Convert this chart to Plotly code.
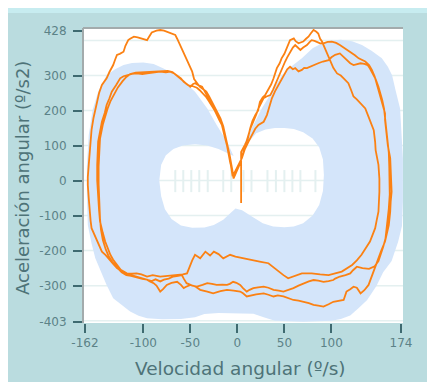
import plotly.graph_objects as go

# ---------------- data ----------------
x_ticks = [-162, -100, -50, 0, 50, 100, 174]
y_ticks = [-403, -300, -200, -100, 0, 100, 200, 300, 428]
grid_y = [-400, -300, -200, -100, 0, 100, 200, 300, 400]
center_ticks = [-66, -57.5, -49, -40.5, -31.5, -15, -6.5, 6.5, 15, 32, 41, 50, 58.5, 67, 83]

# shaded reference band (C-shaped region around a white central "peanut")
band = [
    (-4, 70), (-11, 111), (-22, 159), (-32, 206), (-45, 254), (-56, 282), (-64, 301),
    (-79, 321), (-89, 333), (-100, 337), (-112, 336), (-121, 330), (-130, 318),
    (-139, 301), (-148, 254), (-154, 200), (-158, 130), (-160, 40), (-160, -40),
    (-159, -127), (-155, -180), (-151, -222), (-145, -262), (-139, -298), (-132, -336),
    (-122, -358), (-114, -374), (-105, -386), (-96, -393), (-80, -396), (-60, -395),
    (-45, -390), (-35, -381), (-20, -378), (0, -378), (17, -380), (28, -390), (40, -400),
    (70, -403), (100, -400), (110, -395), (120, -385), (129, -364), (138, -341),
    (148, -300), (155, -262), (164, -230), (171, -174), (175, -130), (176, -60),
    (176, 64), (174, 150), (173, 206), (168, 260), (164.5, 301), (160, 325),
    (153.6, 349), (143, 370), (132.5, 387), (122, 398), (110, 402), (100, 400),
    (90, 392), (80, 378), (68.6, 349), (57, 325), (47.3, 301), (36.7, 254), (26, 206),
    (17, 159), (8.3, 111), (5, 80),
    # inner white hole boundary
    (12, 111), (20, 135), (30, 146), (40, 150), (50, 150), (60, 147), (70, 138),
    (80, 120), (87, 95), (91, 60), (92, 16), (91, -30), (87, -70), (80, -100),
    (70, -122), (60, -131), (50, -133), (38, -131), (27, -122), (15, -102), (5, -85),
    (-2, -80), (-8, -95), (-15, -112), (-25, -127), (-35, -134), (-48, -135),
    (-60, -128), (-70, -110), (-77, -82), (-81, -45), (-83, 0), (-81, 45), (-76, 72),
    (-68, 90), (-58, 100), (-45, 104), (-32, 100), (-20, 90), (-10, 78), (-4, 70),
]

loop1 = [
    (4, -64), (4, -20), (4, 30), (4, 82), (8, 102), (11, 118), (13.6, 149), (16, 170),
    (19, 187), (22, 200), (24, 225), (27, 238), (29.5, 244), (33, 259), (36, 275),
    (38.5, 292), (42, 321), (45, 335), (47, 349), (50, 362), (52.6, 378), (56, 401),
    (60, 406), (62, 398), (65, 392), (70, 397), (73, 405), (75.6, 411), (78, 420),
    (81, 430), (84, 425), (86, 420), (88, 405), (90, 397), (93, 378), (96, 360),
    (99, 340), (102, 322), (106, 306), (110, 300), (113, 292), (118, 278), (121, 258),
    (123.5, 240), (127, 232), (130.5, 221), (136, 206), (139.5, 182), (142, 165),
    (145, 144), (146.5, 110), (147, 87), (150, 45), (151, 5), (151, -32), (150, -89),
    (148, -115), (146.5, -136), (141, -174), (136, -195), (132, -212), (127, -228),
    (122, -241), (111, -260), (104, -266), (97, -270), (88, -268), (79, -265),
    (68.6, -265), (60, -272), (54, -279), (49, -270), (44, -260), (38, -248),
    (33, -236), (25, -232), (15, -227), (6, -222), (-2, -217), (-7.7, -212),
    (-12, -218), (-15, -222), (-20, -210), (-25, -203), (-29, -214), (-34, -203),
    (-39.5, -222), (-45, -212), (-48, -228), (-50, -241), (-53.5, -265), (-58, -268),
    (-64, -270), (-72, -272), (-82, -274), (-90, -270), (-96, -274), (-102, -268),
    (-107, -265), (-112, -266), (-117.5, -265), (-124, -255), (-128, -241),
    (-132, -226), (-135, -212), (-138, -194), (-140.5, -174), (-143, -150),
    (-146, -117), (-147, -85), (-148, -50), (-149, 0), (-149, 45), (-148.5, 80),
    (-148, 111), (-146, 140), (-144, 168), (-141, 193), (-139, 216), (-136, 235),
    (-133.5, 254), (-129, 272), (-124.6, 292), (-121, 298), (-117.5, 301), (-112, 305),
    (-107, 306), (-101, 304), (-96, 306), (-89, 308), (-82, 311), (-76, 309),
    (-71.5, 311), (-67, 306), (-64, 301), (-60, 292), (-57, 282), (-53, 274),
    (-50, 268), (-47, 276), (-45, 278), (-41, 272), (-37.5, 268), (-35, 256),
    (-32.4, 244), (-30, 230), (-27, 216), (-24, 200), (-22, 187), (-19, 172),
    (-16.5, 159), (-15, 140), (-13, 121), (-11, 100), (-9.5, 73), (-7.5, 50),
    (-5.9, 35), (-4, 6),
]

loop2 = [
    (3, 50), (6, 80), (9, 105), (11.8, 130), (14, 150), (17, 168), (20, 188),
    (22.4, 206), (25, 222), (27.8, 235), (31, 240), (35, 244), (38, 260), (40, 273),
    (43, 292), (45.5, 311), (48, 326), (50.8, 340), (53, 352), (56, 368), (59, 380),
    (61.5, 387), (64, 380), (67, 373), (70, 380), (74, 387), (77, 396), (79, 401),
    (82, 399), (84.5, 397), (88, 392), (91.5, 392), (96, 396), (100.5, 397),
    (105, 393), (109, 387), (114, 378), (120, 368), (125, 358), (129, 349),
    (133, 344), (136, 340), (140, 330), (143, 316), (146, 297), (148, 278),
    (150, 262), (152, 244), (154, 228), (155.5, 211), (157, 192), (157, 173),
    (158, 150), (159, 125), (160, 100), (162.5, 64), (163.5, 16), (164, -32),
    (163, -60), (162.5, -89), (161, -127), (159, -150), (157, -174), (153, -200),
    (150, -222), (147, -242), (145, -262), (142, -280), (139.5, -298), (135, -313),
    (131, -322), (127, -306), (123.5, -303), (120, -310), (116, -317), (113, -341),
    (108, -343), (102, -346), (97, -353), (91.6, -360), (86, -357), (81, -355),
    (76, -350), (70.4, -346), (65, -343), (59.6, -341), (54, -335), (49, -331),
    (43, -328), (38.5, -331), (33, -326), (28, -322), (20, -325), (15, -328),
    (10, -331), (6, -322), (3, -317), (-4, -314), (-11, -312), (-18, -316),
    (-25.7, -322), (-32, -317), (-39.5, -312), (-45, -302), (-50, -298), (-55, -304),
    (-57, -307), (-60, -298), (-64, -289), (-70, -292), (-75, -298), (-79, -310),
    (-82, -317), (-86, -300), (-89, -293), (-93, -288), (-96, -283), (-101, -281),
    (-107, -276), (-113, -272), (-118, -270), (-123, -262), (-128, -248),
    (-133, -232), (-137, -215), (-140, -196), (-143, -170), (-145, -140),
    (-146, -110), (-147, -60), (-147.5, -10), (-147.5, 40), (-147, 90), (-146, 120),
    (-143, 160), (-141, 180), (-138, 205), (-135, 226), (-131, 248), (-127, 266),
    (-122, 284), (-118, 296), (-114, 304), (-108, 308), (-103, 309), (-97, 310),
    (-92, 309), (-86, 312), (-80, 313), (-74, 313), (-69, 310), (-65, 302),
    (-62, 295), (-59, 288), (-55, 278), (-52, 272), (-48, 270), (-43, 265),
    (-40, 258), (-36, 248), (-33, 238), (-30, 226), (-27, 214), (-24, 200),
    (-21, 186), (-18, 172), (-16, 158), (-14, 138), (-12, 118), (-10.5, 95),
    (-8.5, 70), (-7, 45), (-6, 25), (-5, 12),
]

loop3 = [
    (4.8, 64), (8, 90), (12, 112), (15.4, 130), (19, 148), (22.4, 159), (25, 163),
    (28, 168), (31.4, 187), (34, 210), (36.7, 235), (40, 255), (43.7, 273), (47, 292),
    (50.8, 311), (53, 318), (56, 325), (59, 318), (61.5, 321), (65, 312), (68.6, 316),
    (71, 322), (74, 321), (78, 326), (81, 330), (86, 335), (91, 340), (97, 344),
    (100, 352), (104, 359), (109, 363), (112, 356), (116, 344), (120, 335),
    (123.5, 330), (127, 333), (131, 335), (135, 333), (138.5, 330), (141, 320),
    (143, 311), (147, 290), (150, 268), (152, 250), (154, 230), (156, 205), (157, 182),
    (158, 160), (159, 144), (160, 111), (161, 80), (161.5, 40), (162, 0), (162, -40),
    (161, -80), (160, -110), (159, -140), (157.5, -165), (155, -190), (152, -215),
    (150, -230), (146, -245), (140, -252), (133, -250), (127, -246), (123, -256),
    (120, -265), (115, -270), (109, -274), (104, -280), (102, -284), (97, -287),
    (91.6, -289), (86, -286), (81, -284), (76, -288), (70.4, -293), (65, -300),
    (59.6, -307), (54, -312), (49, -317), (44, -314), (38.5, -312), (33, -306),
    (28, -303), (22, -305), (17, -307), (13, -312), (10, -317), (6, -307), (3, -298),
    (-1, -292), (-4.5, -289), (-8, -295), (-11, -298), (-16, -297), (-22, -298),
    (-27, -295), (-32, -293), (-37, -298), (-43, -303), (-48, -300), (-54, -293),
    (-57, -280), (-59, -270), (-63, -272), (-68, -274), (-73, -280), (-78, -283),
    (-82, -288), (-87, -282), (-91, -287), (-96, -283), (-100, -281), (-105, -276),
    (-110, -272), (-117, -270), (-122, -262), (-128, -250), (-132, -238),
    (-137, -222), (-140, -213), (-144, -203), (-146, -190), (-149, -174),
    (-152, -155), (-155, -136), (-156, -115), (-157, -89), (-158, -50), (-159, -13),
    (-159, 10), (-158, 45), (-157, 80), (-156.5, 111), (-155, 145), (-153, 178),
    (-151, 200), (-149, 225), (-147, 250), (-144, 273), (-142, 281), (-139, 292),
    (-136, 310), (-132, 330), (-130, 345), (-128, 359), (-125, 362), (-121, 368),
    (-119, 385), (-116, 401), (-114, 405), (-110, 411), (-106, 409), (-101, 406),
    (-99, 404), (-96, 401), (-94, 410), (-91, 423), (-86, 428), (-82, 430),
    (-78, 428), (-73, 423), (-70, 420), (-66, 416), (-64, 405), (-61, 387),
    (-58, 370), (-54, 349), (-51, 330), (-48, 311), (-46, 290), (-43, 280),
    (-40, 268), (-37, 262), (-33, 254), (-30, 240), (-27, 225), (-22, 200),
    (-18, 178), (-15, 155), (-13, 130), (-10, 100), (-8, 70), (-5, 25), (-4, 8),
]

x_title = "Velocidad angular (º/s)"
y_title = "Aceleración angular (º/s2)"

# ---------------- styling ----------------
FONT = "DejaVu Sans"
PANEL = "#badcdf"
GRID = "#e4f0f0"
BAND = "#d4e5fa"
ORANGE = "#fb8113"
TICKTXT = "#5c8287"
TITLETXT = "#4e7378"
TICKCOL = "#3e6a70"

fig = go.Figure()

# short marks at y=0 inside the central area
tx, ty = [], []
for v in center_ticks:
    tx += [v, v, None]
    ty += [-33, 30, None]
fig.add_trace(go.Scatter(x=tx, y=ty, mode="lines", line=dict(color=GRID, width=2),
                         hoverinfo="skip", showlegend=False))

fig.add_trace(go.Scatter(x=[p[0] for p in band], y=[p[1] for p in band], mode="lines",
                         fill="toself", fillcolor=BAND, line=dict(width=0, color=BAND),
                         hoverinfo="skip", showlegend=False))

lx, ly = [], []
for loop in (loop1, loop2, loop3):
    lx += [p[0] for p in loop]
    ly += [p[1] for p in loop]
fig.add_trace(go.Scatter(x=lx, y=ly, mode="lines", line=dict(color=ORANGE, width=1.8),
                         hoverinfo="skip", showlegend=False))

# page geometry (the page body adds an 8px offset to the figure)
OFF = 8
W, H = 435 - OFF, 382 - OFF
L, T = 83 - OFF, 28 - OFF          # plot area left / top in figure px
R = W - (403 - OFF)                # right margin
B = H - (323 - OFF)                # bottom margin
pw, ph = W - L - R, H - T - B


def px(x):  # page x pixel -> paper
    return (x - OFF - L) / pw


def py(y):  # page y pixel -> paper
    return (H - B - (y - OFF)) / ph


shapes = [
    dict(type="rect", xref="paper", yref="paper", x0=px(8), x1=px(432), y0=py(382), y1=py(8),
         fillcolor=PANEL, line=dict(width=0), layer="below"),
    dict(type="rect", xref="paper", yref="paper", x0=px(8), x1=px(430), y0=py(13), y1=py(8),
         fillcolor="#c7ecf0", line=dict(width=0), layer="below"),
    dict(type="rect", xref="paper", yref="paper", x0=px(428), x1=px(432), y0=py(382), y1=py(8),
         fillcolor="#aed3d7", line=dict(width=0), layer="below"),
    dict(type="rect", xref="paper", yref="paper", x0=0, x1=1, y0=0, y1=1,
         fillcolor="white", line=dict(width=0), layer="below"),
]
for g in grid_y:
    shapes.append(dict(type="line", xref="paper", yref="y", x0=0, x1=1, y0=g, y1=g,
                       line=dict(color=GRID, width=1.5), layer="below"))
shapes += [
    dict(type="line", xref="paper", yref="paper", x0=0, x1=0, y0=0, y1=1,
         line=dict(color="#a3abac", width=2), layer="above"),
    dict(type="line", xref="paper", yref="paper", x0=0, x1=1, y0=1, y1=1,
         line=dict(color="#a3abac", width=2), layer="above"),
]

axis_common = dict(
    ticks="outside", ticklen=9, tickwidth=2, tickcolor=TICKCOL,
    showgrid=False, zeroline=False, showline=False,
    tickfont=dict(family=FONT, size=12, color=TICKTXT),
)

fig.update_layout(
    width=W, height=H, autosize=False,
    margin=dict(l=L, r=R, t=T, b=B, pad=0),
    paper_bgcolor="white", plot_bgcolor="white",
    showlegend=False, hovermode=False,
    shapes=shapes,
    xaxis=dict(range=[-164.1, 176.1], tickvals=x_ticks, ticktext=[str(v) for v in x_ticks],
               **axis_common),
    yaxis=dict(range=[-406.7, 435.7], tickvals=y_ticks, ticktext=[str(v) for v in y_ticks],
               ticklabelstandoff=4, **axis_common),
    annotations=[
        dict(text=x_title, xref="paper", yref="paper", x=px(240), y=py(368),
             xanchor="center", yanchor="middle", showarrow=False,
             font=dict(family=FONT, size=18.5, color=TITLETXT)),
        dict(text=y_title, xref="paper", yref="paper", x=px(22), y=py(178),
             xanchor="center", yanchor="middle", showarrow=False, textangle=-90,
             font=dict(family=FONT, size=18, color=TITLETXT)),
    ],
)

fig.write_html("out.html")
